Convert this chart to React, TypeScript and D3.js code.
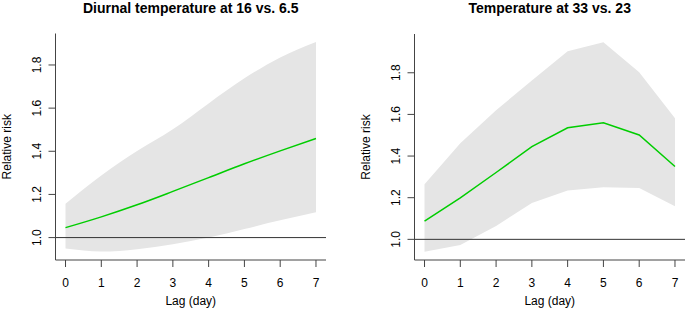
import React from "react";
import * as d3 from "d3";

const lags = [0, 1, 2, 3, 4, 5, 6, 7];

// Panel 1: Diurnal temperature at 16 vs. 6.5
const dtrFit = [1.046, 1.096, 1.152, 1.214, 1.278, 1.342, 1.402, 1.459];
const dtrLow = [0.949, 0.935, 0.946, 0.969, 1.0, 1.04, 1.08, 1.117];
const dtrHigh = [1.157, 1.288, 1.401, 1.502, 1.622, 1.738, 1.835, 1.907];

// Panel 2: Temperature at 33 vs. 23
const tempFit = [1.087, 1.199, 1.321, 1.445, 1.536, 1.56, 1.501, 1.35];
const tempLow = [0.941, 0.973, 1.064, 1.175, 1.234, 1.25, 1.247, 1.159];
const tempHigh = [1.265, 1.461, 1.62, 1.763, 1.903, 1.946, 1.803, 1.581];

const yTicks = [1.0, 1.2, 1.4, 1.6, 1.8];
const xTicks = [0, 1, 2, 3, 4, 5, 6, 7];

const titles = ["Diurnal temperature at 16 vs. 6.5", "Temperature at 33 vs. 23"];
const xLabel = "Lag (day)";
const yLabel = "Relative risk";

const FONT = "'Liberation Sans', Arial, Helvetica, sans-serif";

type PanelProps = {
  left: number;
  width: number;
  top: number;
  bottom: number;
  fit: number[];
  low: number[];
  high: number[];
  title: string;
  smooth: boolean;
};

function rExtend([a, b]: [number, number]): [number, number] {
  const r = b - a;
  return [a - 0.04 * r, b + 0.04 * r];
}

function Panel({ left, width, top, bottom, fit, low, high, title, smooth }: PanelProps) {
  const x = d3.scaleLinear().domain(rExtend([0, 7])).range([left, left + width]);
  const yDom = rExtend([d3.min(low) as number, d3.max(high) as number]);
  const y = d3.scaleLinear().domain(yDom).range([bottom, top]);
  const curve = smooth ? d3.curveMonotoneX : d3.curveLinear;
  const area = d3
    .area<number>()
    .x((_, i) => x(lags[i]))
    .y0((_, i) => y(low[i]))
    .y1((_, i) => y(high[i]))
    .curve(curve);
  const line = d3
    .line<number>()
    .x((_, i) => x(lags[i]))
    .y((d) => y(d))
    .curve(curve);
  const axisCol = "#444";
  return (
    <g>
      <path d={area(fit) || ""} fill="#e5e5e5" stroke="none" />
      <line x1={left} x2={left + width} y1={y(1)} y2={y(1)} stroke="#333" strokeWidth={1} />
      <path d={line(fit) || ""} fill="none" stroke="#00cd00" strokeWidth={1.5} />
      {/* y axis */}
      <line x1={left} x2={left} y1={top} y2={bottom} stroke={axisCol} strokeWidth={1} />
      {yTicks.map((t) => (
        <g key={t}>
          <line x1={left - 7} x2={left} y1={y(t)} y2={y(t)} stroke={axisCol} strokeWidth={1} />
          <text
            transform={`translate(${left - 15},${y(t)}) rotate(-90)`}
            textAnchor="middle"
            fontSize={12}
            fontFamily={FONT}
            fill="#000"
          >
            {t.toFixed(1)}
          </text>
        </g>
      ))}
      {/* x axis */}
      <line x1={left} x2={left + width} y1={bottom} y2={bottom} stroke={axisCol} strokeWidth={1} />
      {xTicks.map((t) => (
        <g key={t}>
          <line x1={x(t)} x2={x(t)} y1={bottom} y2={bottom + 7} stroke={axisCol} strokeWidth={1} />
          <text x={x(t)} y={287} textAnchor="middle" fontSize={12} fontFamily={FONT} fill="#000">
            {t}
          </text>
        </g>
      ))}
      <text x={left + width / 2} y={305} textAnchor="middle" fontSize={12} fontFamily={FONT} fill="#000">
        {xLabel}
      </text>
      <text
        transform={`translate(${left - 45},${(top + bottom) / 2}) rotate(-90)`}
        textAnchor="middle"
        fontSize={12}
        fontFamily={FONT}
        fill="#000"
      >
        {yLabel}
      </text>
      <text
        x={left + width / 2}
        y={12.5}
        textAnchor="middle"
        fontSize={14}
        fontWeight="bold"
        fontFamily={FONT}
        fill="#000"
      >
        {title}
      </text>
    </g>
  );
}

export default function App() {
  return (
    <svg
      width={685}
      height={311}
      style={{ position: "absolute", left: 0, top: 0, background: "#fff" }}
    >
      <rect x={0} y={0} width={685} height={311} fill="#fff" />
      <Panel
        left={55.5}
        width={270.5}
        top={33.5}
        bottom={260}
        fit={dtrFit}
        low={dtrLow}
        high={dtrHigh}
        title={titles[0]}
        smooth={true}
      />
      <Panel
        left={414.5}
        width={270.5}
        top={34}
        bottom={260}
        fit={tempFit}
        low={tempLow}
        high={tempHigh}
        title={titles[1]}
        smooth={false}
      />
    </svg>
  );
}
